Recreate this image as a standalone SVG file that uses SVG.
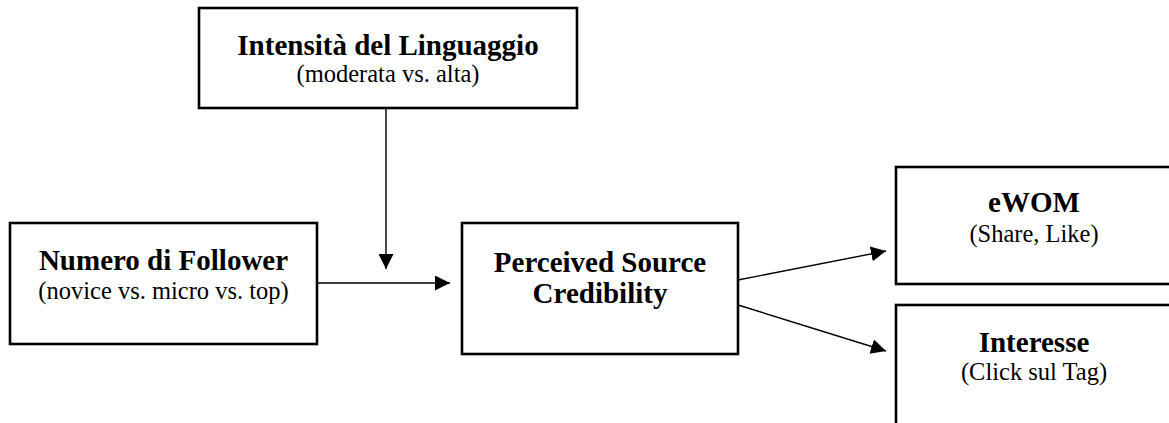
<svg xmlns="http://www.w3.org/2000/svg" width="1169" height="423" viewBox="0 0 1169 423">
  <style>
    .box { fill: #ffffff; stroke: #000000; stroke-width: 2.6; }
    .conn { fill: none; stroke: #000000; stroke-width: 1.4; marker-end: url(#arrow); }
    .title { font-family: "Liberation Serif", "Times New Roman", serif; font-weight: bold; font-size: 29px; fill: #000000; text-anchor: middle; }
    .sub { font-family: "Liberation Serif", "Times New Roman", serif; font-size: 24.5px; fill: #000000; text-anchor: middle; }
  </style>
  <defs>
    <marker id="arrow" viewBox="0 0 15 15" refX="15" refY="7.5" markerWidth="15" markerHeight="15" markerUnits="userSpaceOnUse" orient="auto">
      <path d="M0,0 L15,7.5 L0,15 z" fill="#000000"/>
    </marker>
  </defs>
  <rect width="1169" height="423" fill="#ffffff"/>

  <!-- connectors -->
  <g id="connectors">
    <line class="conn" x1="386" y1="108" x2="386" y2="269"/>
    <line class="conn" x1="317" y1="283" x2="450" y2="283"/>
    <line class="conn" x1="738" y1="280" x2="886" y2="251"/>
    <line class="conn" x1="738" y1="305" x2="886" y2="351"/>
  </g>

  <!-- moderator -->
  <g id="intensita">
    <rect class="box" x="199" y="8" width="378" height="100"/>
    <text class="title" x="388" y="55">Intensità del Linguaggio</text>
    <text class="sub" x="388" y="82">(moderata vs. alta)</text>
  </g>

  <!-- independent variable -->
  <g id="follower">
    <rect class="box" x="10" y="223" width="307" height="121"/>
    <text class="title" x="163.5" y="270">Numero di Follower</text>
    <text class="sub" x="163.5" y="299">(novice vs. micro vs. top)</text>
  </g>

  <!-- mediator -->
  <g id="credibility">
    <rect class="box" x="462" y="223" width="276" height="131"/>
    <text class="title" x="600" y="272">Perceived Source</text>
    <text class="title" x="600" y="303">Credibility</text>
  </g>

  <!-- outcomes -->
  <g id="ewom">
    <rect class="box" x="896" y="167" width="300" height="117"/>
    <text class="title" x="1034" y="212">eWOM</text>
    <text class="sub" x="1034" y="242">(Share, Like)</text>
  </g>

  <g id="interesse">
    <rect class="box" x="896" y="305" width="300" height="140"/>
    <text class="title" x="1034" y="352">Interesse</text>
    <text class="sub" x="1034" y="380">(Click sul Tag)</text>
  </g>
</svg>
